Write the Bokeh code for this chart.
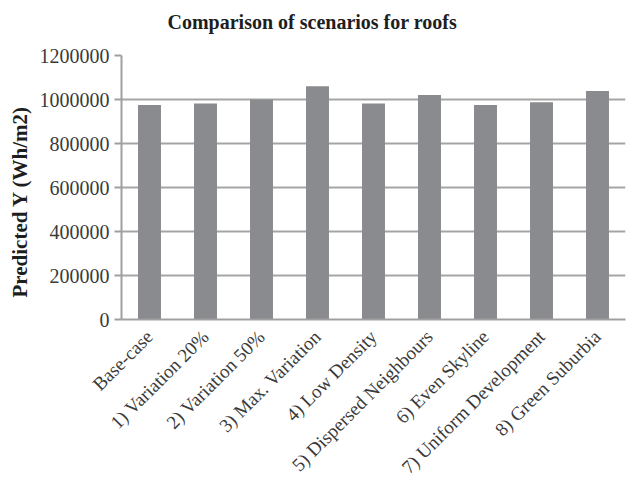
from math import pi
from bokeh.plotting import figure
from bokeh.models import FactorRange, Range1d, SingleIntervalTicker, Title
from bokeh.embed import file_html
from bokeh.resources import INLINE

categories = ["Base-case", "1) Variation 20%", "2) Variation 50%", "3) Max. Variation",
              "4) Low Density", "5) Dispersed Neighbours", "6) Even Skyline",
              "7) Uniform Development", "8) Green Suburbia"]
values = [975000, 982000, 1000000, 1060000, 982000, 1021000, 975000, 988000, 1039000]
title_text = "Comparison of scenarios for roofs"
y_label = "Predicted Y (Wh/m2)"

SERIF = "Liberation Serif"

p = figure(width=636, height=487, x_range=FactorRange(*categories, range_padding=0),
           y_range=Range1d(0, 1200000), output_backend="svg", toolbar_location=None,
           min_border_left=120, min_border_right=11, min_border_top=55, min_border_bottom=168)

p.vbar(x=categories, top=values, width=0.41, fill_color="#8a8b8f", line_color=None)

# spacer between frame and title, then the title itself
p.add_layout(Title(text=" ", text_font_size="2px", standoff=16), "above")
p.add_layout(Title(text=title_text, text_font=SERIF, text_font_size="20px",
                   text_font_style="bold", text_color="#1e1e1e", align="left",
                   offset=46, standoff=6), "above")
# y-axis label as a side title for precise placement
p.add_layout(Title(text=y_label, text_font=SERIF, text_font_size="21px",
                   text_font_style="bold", text_color="#1e1e1e", align="left",
                   offset=22, standoff=10), "left")

p.outline_line_color = None
p.background_fill_color = "white"

p.xgrid.grid_line_color = None
p.ygrid.grid_line_color = "#a5a5a5"
p.ygrid.grid_line_width = 2
p.yaxis.ticker = SingleIntervalTicker(interval=200000)
p.yaxis.formatter.use_scientific = False
p.yaxis.minor_tick_line_color = None
p.yaxis.major_tick_in = 0
p.yaxis.major_tick_out = 7
p.yaxis.major_tick_line_color = "#a0a0a0"
p.yaxis.major_tick_line_width = 2
p.yaxis.axis_line_color = "#a0a0a0"
p.yaxis.axis_line_width = 2
p.yaxis.major_label_text_font = SERIF
p.yaxis.major_label_text_font_size = "20px"
p.yaxis.major_label_text_color = "#3a3a3a"
p.yaxis.major_label_standoff = 5

p.xaxis.axis_line_color = "#a0a0a0"
p.xaxis.axis_line_width = 2
p.xaxis.major_tick_line_color = None
p.xaxis.minor_tick_line_color = None
p.xaxis.major_label_orientation = pi / 4
p.xaxis.major_label_text_font = SERIF
p.xaxis.major_label_text_font_size = "19px"
p.xaxis.major_label_text_color = "#3a3a3a"
p.xaxis.major_label_standoff = 8

open("out.html", "w").write(file_html(p, INLINE))
